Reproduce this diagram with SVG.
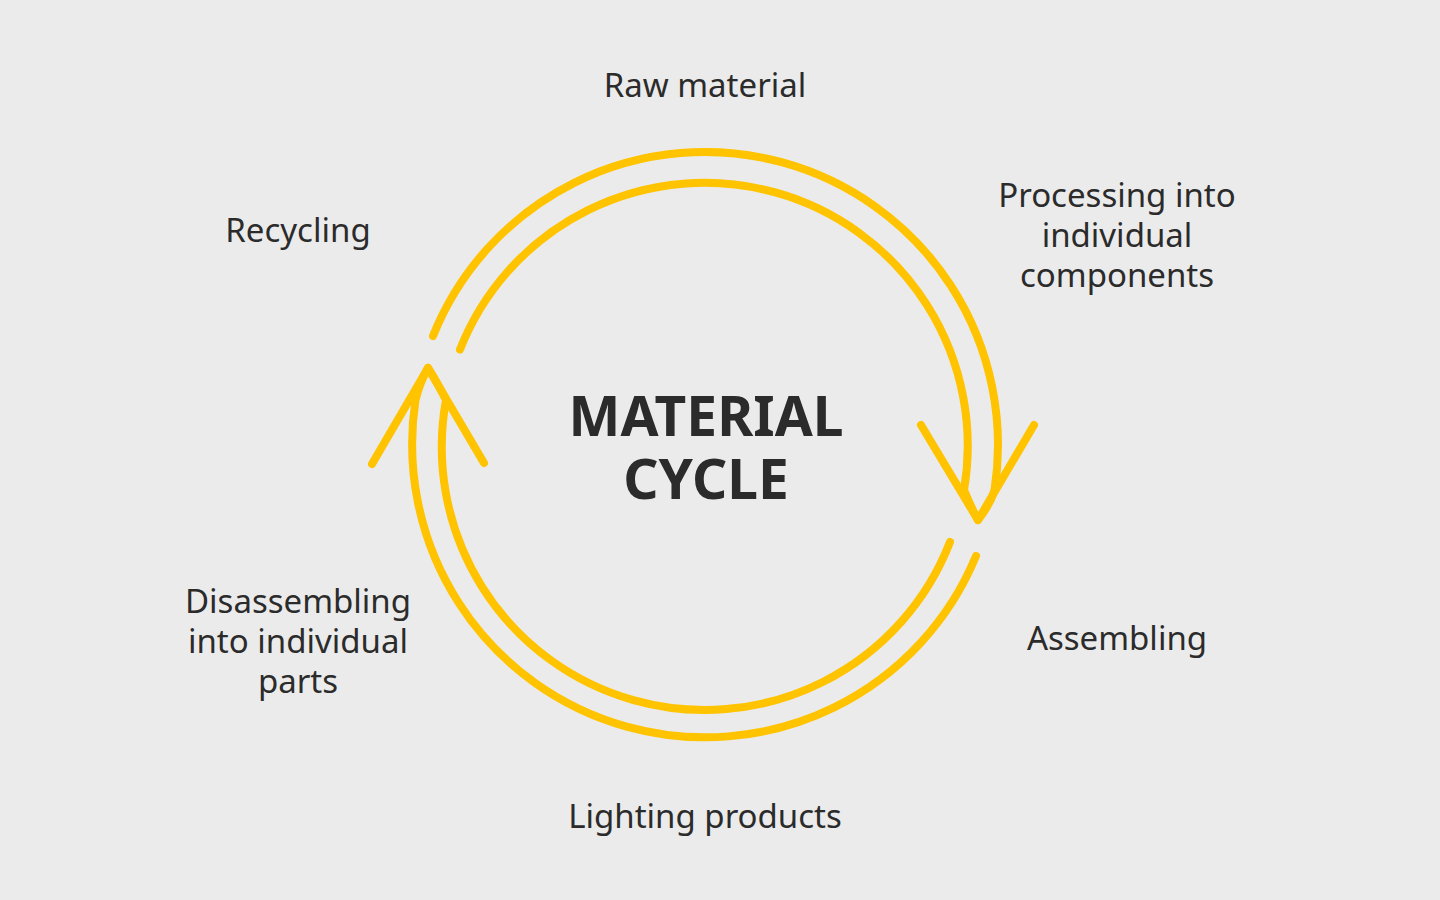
<svg xmlns="http://www.w3.org/2000/svg" width="1440" height="900" viewBox="0 0 1440 900">
<style>
.a{fill:none;stroke:#FFC300;stroke-width:8;stroke-linecap:round;stroke-linejoin:round}
.t{font-family:"Noto Sans","Liberation Sans",sans-serif;font-size:33px;fill:#2b2b2b;text-anchor:middle}
.c{font-family:"Noto Sans","Liberation Sans",sans-serif;font-size:55px;font-weight:bold;fill:#2b2b2b;text-anchor:middle}
</style>
<rect width="1440" height="900" fill="#EBEBEB"/>
<g id="connectors">
<path class="a" d="M433,336 A293,293 0 0 1 994.5,490 Q990,505 978,520"/>
<path class="a" d="M460,349.5 A263,263 0 0 1 964,490 Q970,505 978,520"/>
<path class="a" d="M921,425 L978,520 L1034,425"/>
<path class="a" d="M976,556 A293,293 0 0 1 415.5,400 Q420,382 428,368"/>
<path class="a" d="M950,542 A263,263 0 0 1 446,400 Q437,382 428,368"/>
<path class="a" d="M372,464 L428,368 L484,463"/>
</g>
<g id="center"><text class="c" x="706" y="436">MATERIAL</text><text class="c" x="706" y="499">CYCLE</text></g>
<g id="raw"><text class="t" x="705" y="97">Raw material</text></g>
<g id="processing"><text class="t" x="1117" y="207">Processing into</text><text class="t" x="1117" y="247">individual</text><text class="t" x="1117" y="287">components</text></g>
<g id="assembling"><text class="t" x="1117" y="650">Assembling</text></g>
<g id="lighting"><text class="t" x="705" y="828">Lighting products</text></g>
<g id="disassembling"><text class="t" x="298" y="613">Disassembling</text><text class="t" x="298" y="653">into individual</text><text class="t" x="298" y="693">parts</text></g>
<g id="recycling"><text class="t" x="298" y="242">Recycling</text></g>
</svg>
